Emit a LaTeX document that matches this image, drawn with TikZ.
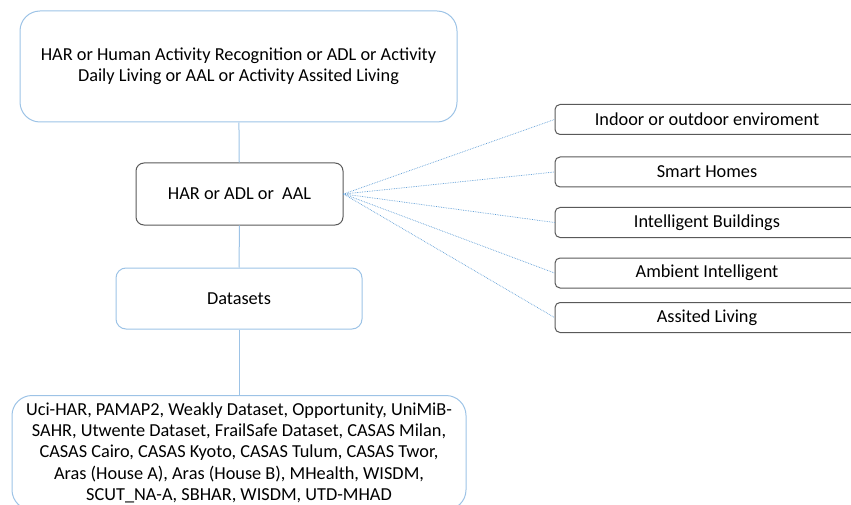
\documentclass[tikz,border=0pt]{standalone}
\usepackage{fontspec}
\setmainfont{Carlito}
\definecolor{boxblue}{HTML}{9DC3E6}
\definecolor{dotblue}{HTML}{5B9BD5}
\definecolor{boxgray}{HTML}{595959}

\begin{document}
\begin{tikzpicture}[
            x=1pt, y=-1pt,
            every node/.style={align=center, inner sep=0pt, font=\fontsize{18.3}{21.3}\selectfont},
            bluebox/.style={draw=boxblue, line width=1pt},
            graybox/.style={draw=boxgray, line width=1pt},
            itembox/.style={graybox, rounded corners=5pt, minimum width=304pt, minimum height=30pt},
            link/.style={draw=boxblue, line width=1pt},
            dotlink/.style={draw=dotblue, densely dotted, line width=0.7pt}
        ]

            \useasboundingbox (0,0) rectangle (851,505);
            \clip (0,0) rectangle (851,505);

            \node[bluebox, rounded corners=20pt, minimum width=437pt, minimum height=111pt] (har) at (238.5,66.5)
                {HAR or Human Activity Recognition or ADL or Activity \\ Daily Living or AAL or Activity Assited Living};
            \node[graybox, rounded corners=8pt, minimum width=207pt, minimum height=62pt] (short) at (239.5,194) {HAR or ADL or~ AAL};
            \node[bluebox, rounded corners=10pt, minimum width=246pt, minimum height=61pt] (data) at (239,298.5) {Datasets};
            \node[bluebox, rounded corners=20pt, anchor=north, minimum width=454pt, inner ysep=7pt] (list) at (239,395)
                {Uci-HAR, PAMAP2, Weakly Dataset, Opportunity, UniMiB- \\
                 SAHR, Utwente Dataset, FrailSafe Dataset, CASAS Milan, \\
                 CASAS Cairo, CASAS Kyoto, CASAS Tulum, CASAS Twor, \\
                 Aras (House A), Aras (House B), MHealth, WISDM, \\
                 SCUT\_NA-A, SBHAR, WISDM, UTD-MHAD};

            \node[itembox] (env) at (707,119.5) {Indoor or outdoor enviroment};
            \node[itembox] (homes) at (707,172) {Smart Homes};
            \node[itembox] (build) at (707,222.5) {Intelligent Buildings};
            \node[itembox] (ambient) at (707,273) {Ambient Intelligent};
            \node[itembox] (living) at (707,317.5) {Assited Living};

            \draw[link] (har) -- (short);
            \draw[link] (short) -- (data);
            \draw[link] (data) -- (list);

            \foreach \item in {env, homes, build, ambient, living}
                \draw[dotlink] (short.east) -- (\item.west);

        \end{tikzpicture}
\end{document}
